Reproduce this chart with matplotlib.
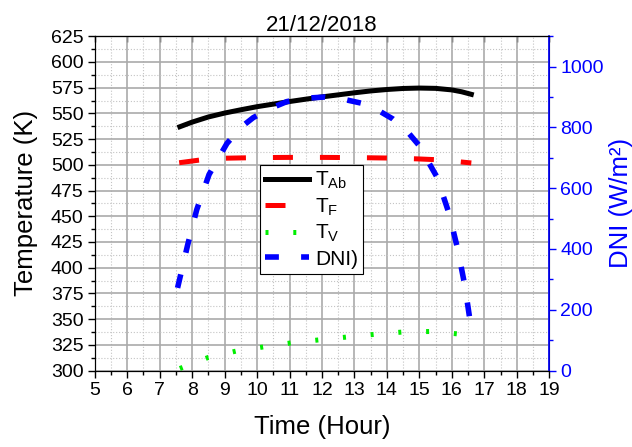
import numpy as np
import matplotlib
matplotlib.use('Agg')
import matplotlib.pyplot as plt
from matplotlib.ticker import MultipleLocator

plt.rcParams['font.family'] = ['Liberation Sans', 'DejaVu Sans']
plt.rcParams['mathtext.fontset'] = 'custom'
plt.rcParams['mathtext.rm'] = 'Liberation Sans'
plt.rcParams['mathtext.it'] = 'Liberation Sans'

# ---------------- data ----------------
t_ab = [7.62, 8.0, 8.5, 9.0, 9.5, 10.0, 10.5, 11.0, 11.5, 12.0, 12.5, 13.0,
        13.5, 14.0, 14.5, 15.0, 15.5, 16.0, 16.3, 16.6]
T_ab = [537.0, 541.5, 546.5, 550.3, 553.5, 556.5, 559.0, 561.5, 563.8, 566.0,
        568.0, 570.0, 571.8, 573.2, 574.2, 574.6, 574.3, 572.8, 571.0, 568.5]

t_f = [7.6, 8.2, 8.6, 9.0, 10.0, 11.0, 12.0, 13.0, 14.0, 14.9, 15.5, 16.0, 16.6]
T_f = [502.0, 504.5, 505.8, 506.4, 507.0, 507.2, 507.2, 507.0, 506.6, 505.8, 505.0, 503.6, 501.8]

t_v = [7.62, 8.5, 9.35, 10.2, 11.05, 11.9, 12.8, 13.65, 14.5, 15.37, 16.23, 16.6]
T_v = [302.0, 312.8, 318.9, 323.0, 326.9, 329.8, 332.7, 335.3, 337.5, 338.0, 335.5, 333.0]

t_dni = [7.55, 7.86, 8.14, 8.52, 9.07, 9.5, 9.88, 10.4, 10.92, 11.5, 12.09,
         12.6, 13.2, 13.7, 14.18, 14.6, 14.98, 15.54, 15.91, 16.18, 16.4, 16.6]
dni = [272, 413, 529, 645, 747, 800, 832, 862, 885, 896, 900,
       894, 880, 858, 828, 790, 742, 637, 518, 400, 280, 136]

# ---------------- figure ----------------
fig = plt.figure(figsize=(6.32, 4.47), dpi=100)
ax = fig.add_axes([0.150, 0.171, 0.719, 0.748])
ax2 = ax.twinx()

ax.plot(t_ab, T_ab, '-', color='black', lw=3.6, label=r'T$_{\mathrm{Ab}}$', zorder=4)
ax.plot(t_f, T_f, color='red', lw=3.6, dashes=(4, 5.4), label=r'T$_{\mathrm{F}}$', zorder=4)
ax.plot(t_v, T_v, color='#00ee00', lw=3.6, dashes=(0.6, 4.96), label=r'T$_{\mathrm{V}}$', zorder=4)
ln_dni, = ax2.plot(t_dni, dni, color='blue', lw=4.0, dashes=(2.5, 4.0), label='DNI)', zorder=4)

ax.set_xlim(5, 19)
ax.set_ylim(300, 625)
ax2.set_ylim(0, 1100)

ax.xaxis.set_major_locator(MultipleLocator(1))
ax.xaxis.set_minor_locator(MultipleLocator(0.5))
ax.yaxis.set_major_locator(MultipleLocator(25))
ax.yaxis.set_minor_locator(MultipleLocator(12.5))
ax2.yaxis.set_major_locator(MultipleLocator(200))
ax2.yaxis.set_minor_locator(MultipleLocator(100))

ax.grid(which='major', color='#aaaaaa', lw=1.2, ls='-')
ax.grid(which='minor', color='#c4c4c4', lw=0.8, ls=':')
ax.set_axisbelow(True)

ax.tick_params(axis='both', which='major', labelsize=14, direction='out', length=5, width=1, pad=3)
ax.tick_params(axis='both', which='minor', direction='out', length=3, width=1)
top = ax.secondary_xaxis('top')
top.set_xticks(np.arange(5, 20, 1))
top.tick_params(direction='in', length=4, width=1, labeltop=False)

ax2.tick_params(axis='y', which='major', colors='blue', labelsize=14, direction='out', length=5, width=1, pad=3)
ax2.tick_params(axis='y', which='minor', colors='blue', direction='out', length=3, width=1)
ax2.spines['right'].set_color('blue')
ax2.spines['right'].set_linewidth(1.2)

ax.set_xlabel('Time (Hour)', fontsize=18.5, labelpad=12)
ax.set_ylabel('Temperature (K)', fontsize=18.5, labelpad=9)
ax2.set_ylabel('DNI (W/m²)', fontsize=18.5, color='blue', labelpad=4)
ax.set_title('21/12/2018', fontsize=16, pad=4)

handles, labels = ax.get_legend_handles_labels()
handles.append(ln_dni)
labels.append('DNI)')
leg = ax2.legend(handles, labels, loc='upper left', bbox_to_anchor=(0.363, 0.615),
                 fontsize=15, frameon=True, fancybox=False, edgecolor='black',
                 framealpha=1, handlelength=2.1, borderpad=0.25, labelspacing=0.25,
                 handletextpad=0.3, borderaxespad=0)
leg.get_frame().set_linewidth(0.8)

fig.savefig('out.png', dpi=100)
